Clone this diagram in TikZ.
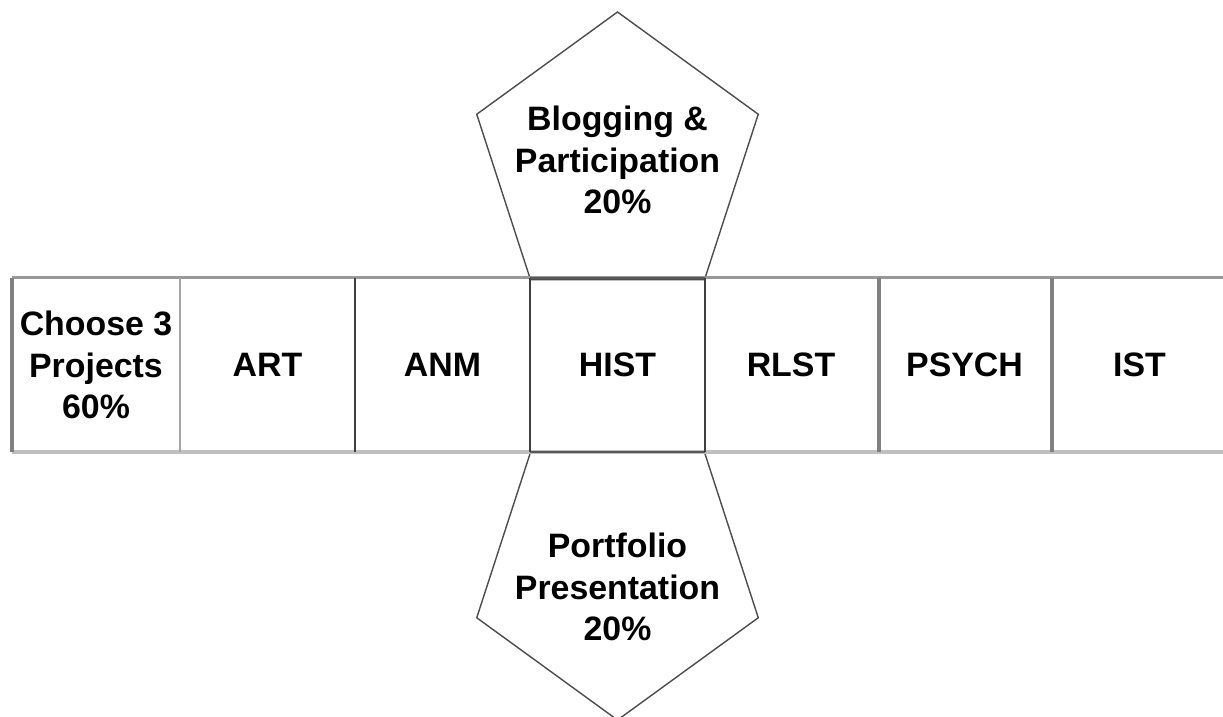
\documentclass[tikz,border=0pt]{standalone}
\usepackage{fontspec}
\setmainfont{Liberation Sans}
\usetikzlibrary{shapes.geometric}

\begin{document}
\begin{tikzpicture}[x=1bp,y=-1bp,node distance=175bp,
                    font=\bfseries\fontsize{34}{42}\selectfont]
\tikzstyle{every node}=[align=center,inner sep=0pt,outer sep=0pt]
\tikzstyle{cell}=[rectangle,minimum width=175bp,minimum height=174bp]
\tikzstyle{pent}=[regular polygon,regular polygon sides=5,minimum size=296bp,
                  draw=black!70,line width=1.4bp]
\tikzstyle{rim}=[line width=3bp,draw=black!40]
\tikzstyle{seam}=[line width=2bp,draw=black!75]
\tikzstyle{fat}=[line width=4bp,draw=black!50]
\useasboundingbox (0,0) rectangle (1223,717);
\node [cell] (hist) at (617.5,365) {HIST};
\node [cell] [left of=hist] (anm) {ANM};
\node [cell] [left of=anm] (art) {ART};
\node [cell] [left of=art, xshift=3.5bp, minimum width=168bp] (choose) {Choose 3\\Projects\\60\%};
\node [cell] [right of=hist, xshift=-1.5bp] (rlst) {RLST};
\node [cell] [right of=rlst, xshift=-1.5bp] (psych) {PSYCH};
\node [cell] [right of=psych] (ist) {IST};
\node [pent] [above of=hist, yshift=30bp] (blog) {};
\node [pent] [below of=hist, yshift=-32bp, shape border rotate=180] (port) {};
\node at (blog) (blogtext) {Blogging \&\\Participation\\20\%};
\node [yshift=-15bp] at (port) (porttext) {Portfolio\\Presentation\\20\%};

\path[rim] (choose.north west) edge (ist.north east);
\path[rim,line width=4bp,draw=black!25] (choose.south west) edge (ist.south east);
\path[seam,draw=black!65] (hist.north west) edge (hist.north east)
      (hist.south west) edge (hist.south east);
\path[seam,draw=black!35,line width=2.5bp] (choose.north east) edge (choose.south east);
\path[seam] (art.north east) edge (art.south east)
      (hist.north west) edge (hist.south west)
      (hist.north east) edge (hist.south east);
\path[fat] (choose.north west) edge (choose.south west)
      (rlst.north east) edge (rlst.south east)
      (psych.north east) edge (psych.south east);
\end{tikzpicture}
\end{document}
